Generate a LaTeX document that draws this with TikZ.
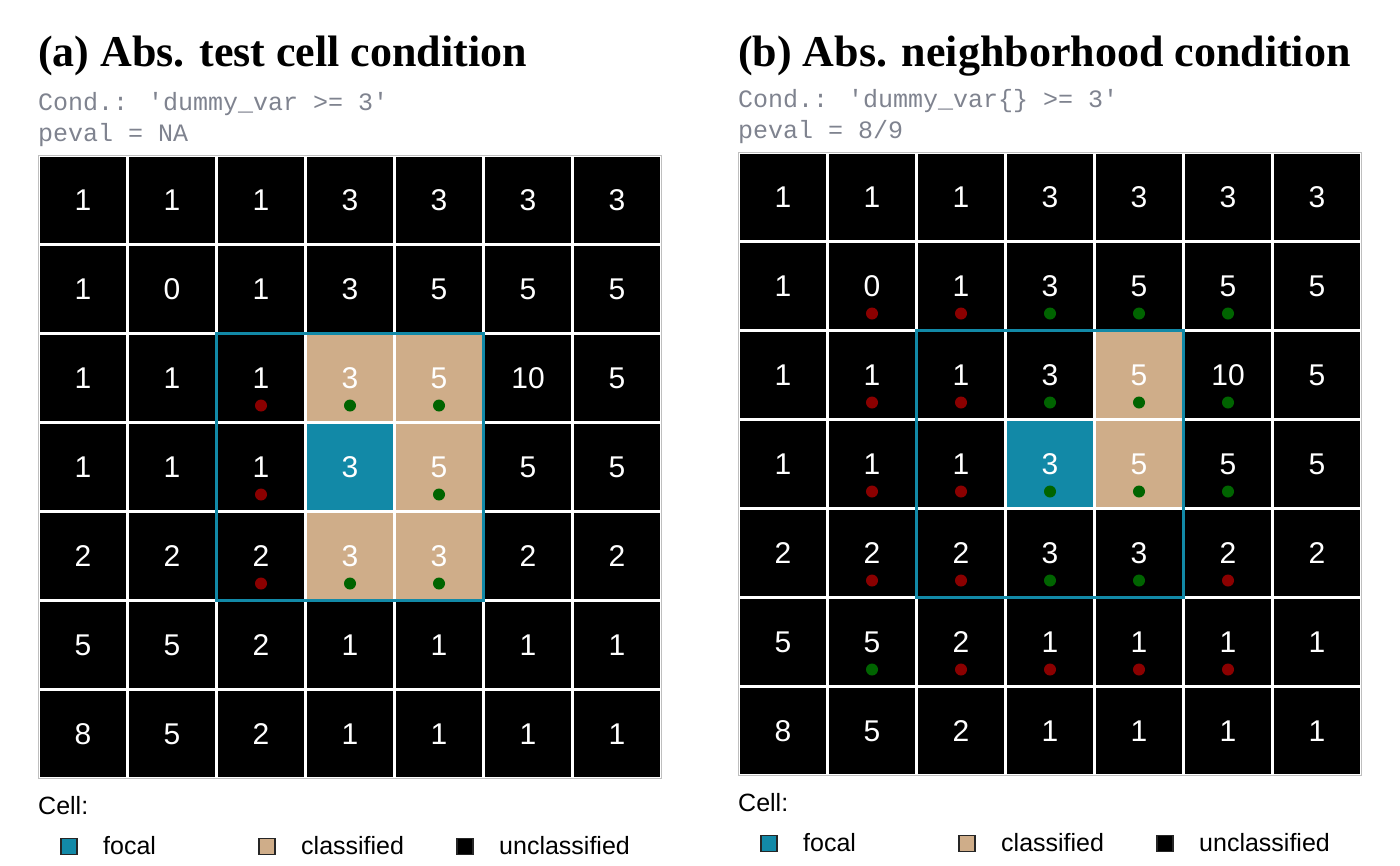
\documentclass[tikz,border=0pt]{standalone}
\usepackage{fontspec}
\setmainfont{Liberation Sans}
\newfontfamily\ttlfont{Liberation Serif}
\newfontfamily\codefont{Liberation Mono}
\definecolor{focalc}{RGB}{18,137,167}
\definecolor{classc}{RGB}{207,173,137}
\definecolor{redc}{RGB}{139,0,0}
\definecolor{greenc}{RGB}{0,100,0}
\definecolor{subc}{RGB}{127,131,143}
\tikzset{
 cellbox/.style={rectangle, minimum size=89pt, inner sep=0pt, outer sep=0pt, draw=white, line width=3.6pt, text=white, font=\fontsize{30}{30}\selectfont},
 dotc/.style={circle, minimum size=12pt, inner sep=0pt, outer sep=0pt, draw=none},
 keybox/.style={rectangle, minimum size=16pt, inner sep=0pt, draw=black!85, line width=1.3pt},
 legtext/.style={anchor=base west, inner sep=0pt, font=\fontsize{25}{25}\selectfont},
 subtext/.style={anchor=base west, inner sep=0pt, text=subc, font=\codefont\fontsize{25}{25}\selectfont},
 ttltext/.style={anchor=base west, inner sep=0pt, font=\ttlfont\bfseries\fontsize{44}{50}\selectfont},
 focalframe/.style={draw=focalc, line width=3.5pt},
 gridedge/.style={draw=black!25, line width=1pt},
}
\newcommand\setcellfill[2]{\expandafter\def\csname fill#1\endcsname{#2}}
\setcellfill{a-4-4}{focalc}
\setcellfill{a-3-4}{classc}
\setcellfill{a-3-5}{classc}
\setcellfill{a-4-5}{classc}
\setcellfill{a-5-4}{classc}
\setcellfill{a-5-5}{classc}
\setcellfill{b-4-4}{focalc}
\setcellfill{b-3-5}{classc}
\setcellfill{b-4-5}{classc}
\newcommand\mypanel[2]{%
 \foreach \row [count=\ri] in {{1,1,1,3,3,3,3},{1,0,1,3,5,5,5},{1,1,1,3,5,10,5},{1,1,1,3,5,5,5},{2,2,2,3,3,2,2},{5,5,2,1,1,1,1},{8,5,2,1,1,1,1}}{%
  \foreach \val [count=\ci] in \row {%
   \ifcsname fill#1-\ri-\ci\endcsname \edef\cf{\csname fill#1-\ri-\ci\endcsname}\else\def\cf{black}\fi
   \node[cellbox, fill=\cf] (#1-\ri-\ci) at ({38.5+89*(\ci-0.5)},{155.5+89*(\ri-0.5)}) {\val};
  }%
 }%
 \draw[gridedge] (#1-1-1.north west) rectangle (#1-7-7.south east);
 \draw[focalframe] (#1-3-3.north west) rectangle (#1-5-5.south east);
 \foreach \ri/\ci/\col in {#2} {\node[dotc, fill=\col] (#1-d-\ri-\ci) at ([yshift=-27.5pt]#1-\ri-\ci.center) {};}
 \node[legtext] (#1-cell) at (38,814) {Cell:};
 \node[keybox, fill=focalc] (#1-k1) at (69,846.5) {};
 \node[legtext] (#1-t1) at (103,854) {focal};
 \node[keybox, fill=classc] (#1-k2) at (267,846.5) {};
 \node[legtext] (#1-t2) at (301,854) {classified};
 \node[keybox, fill=black] (#1-k3) at (465,846.5) {};
 \node[legtext] (#1-t3) at (499,854) {unclassified};
}
\begin{document}
\begin{tikzpicture}[x=1pt,y=-1pt]
\useasboundingbox (0,0) rectangle (1400,865);
\node[ttltext] (ta) at (38,66) {(a) Abs. test cell condition};
\node[ttltext] (tb) at (738,66) {(b) Abs. neighborhood condition};
\node[subtext] (sa1) at (38,110) {Cond.: \char"27 dummy\_var >= 3\char"27};
\node[subtext] (sa2) at (38,141) {peval = NA};
\mypanel{a}{3/3/redc,3/4/greenc,3/5/greenc,4/3/redc,4/5/greenc,5/3/redc,5/4/greenc,5/5/greenc}
\begin{scope}[shift={(700,-3)}]
\node[subtext] (sb1) at (38,110) {Cond.: \char"27 dummy\_var\{\} >= 3\char"27};
\node[subtext] (sb2) at (38,141) {peval = 8/9};
\mypanel{b}{2/2/redc,2/3/redc,2/4/greenc,2/5/greenc,2/6/greenc,3/2/redc,3/3/redc,3/4/greenc,3/5/greenc,3/6/greenc,4/2/redc,4/3/redc,4/4/greenc,4/5/greenc,4/6/greenc,5/2/redc,5/3/redc,5/4/greenc,5/5/greenc,5/6/redc,6/2/greenc,6/3/redc,6/4/redc,6/5/redc,6/6/redc}
\end{scope}
\end{tikzpicture}
\end{document}
